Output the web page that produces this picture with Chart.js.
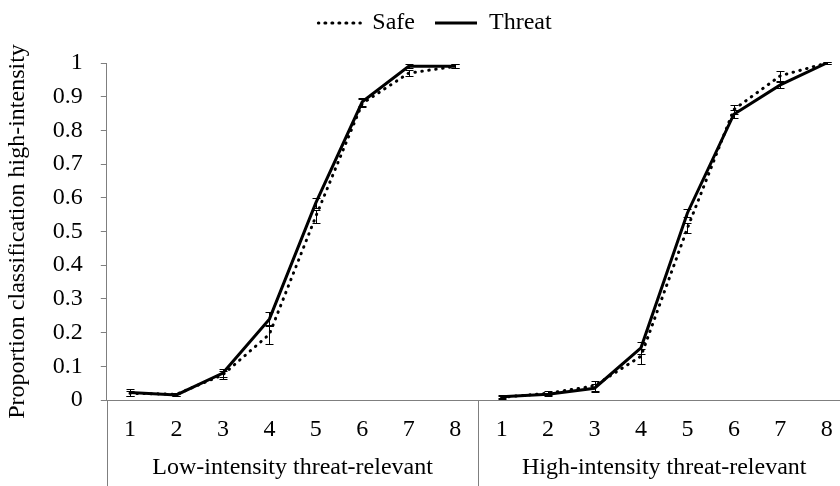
<!DOCTYPE html>
<html>
<head>
<meta charset="utf-8">
<script src="https://cdn.jsdelivr.net/npm/chart.js@4/dist/chart.umd.min.js"></script>
<style>
    html, body { margin: 0; padding: 0; background: #fff; overflow: hidden; }
    #wrap { width: 852px; height: 486px; }
</style>
</head>
<body>
<div id="wrap"><canvas id="mainChart" width="852" height="486"></canvas></div>
<script>
// Data
const categories = ['1', '2', '3', '4', '5', '6', '7', '8', '1', '2', '3', '4', '5', '6', '7', '8'];
const groups = ['Low-intensity threat-relevant', 'High-intensity threat-relevant'];
const safeValues = [0.02, 0.017, 0.075, 0.195, 0.545, 0.88, 0.97, 0.99,
                    0.008, 0.02, 0.042, 0.13, 0.51, 0.862, 0.962, 1.0];
const threatValues = [0.022, 0.015, 0.08, 0.24, 0.585, 0.885, 0.99, 0.99,
                      0.01, 0.017, 0.035, 0.155, 0.555, 0.848, 0.935, 1.0];
const safeErrors = [0.008, 0.005, 0.012, 0.028, 0.02, 0.012, 0.01, 0.006,
                    0.004, 0.006, 0.014, 0.022, 0.015, 0.012, 0.015, 0.003];
const threatErrors = [0.01, 0.004, 0.012, 0.02, 0.015, 0.012, 0.006, 0.006,
                      0.004, 0.005, 0.012, 0.018, 0.012, 0.012, 0.01, 0.003];
const yTicks = [0, 0.1, 0.2, 0.3, 0.4, 0.5, 0.6, 0.7, 0.8, 0.9, 1];

const FONT = 'Liberation Serif';
const AXIS_GREY = '#7f7f7f';
const groupSize = 8;

// no line between the last point of one group and the first of the next
const breakSegment = ctx => (ctx.p0DataIndex % groupSize === groupSize - 1) ? 'rgba(0,0,0,0)' : undefined;

// make the legend box taller and nudge it to where it sits in the figure
const legendSpace = {
    id: 'legendSpace',
    beforeInit(chart) {
        const legend = chart.legend;
        const origFit = legend.fit;
        legend.fit = function () {
            origFit.call(this);
            this.height = 63;
        };
    },
    afterLayout(chart) {
        const legend = chart.legend;
        legend.top -= 9;
        legend.bottom -= 9;
        legend.left += 10;
        legend.right += 10;
    }
};

const errorBars = {
    id: 'errorBars',
    afterDatasetsDraw(chart) {
        const ctx = chart.ctx;
        const y = chart.scales.y;
        ctx.save();
        ctx.strokeStyle = '#000';
        ctx.lineWidth = 1;
        chart.data.datasets.forEach((ds, i) => {
            const meta = chart.getDatasetMeta(i);
            meta.data.forEach((pt, j) => {
                const err = ds.errors[j];
                const top = Math.round(y.getPixelForValue(ds.data[j] + err)) + 0.5;
                const bot = Math.round(y.getPixelForValue(ds.data[j] - err)) + 0.5;
                const x = Math.round(pt.x) + 0.5;
                ctx.beginPath();
                ctx.moveTo(x, top); ctx.lineTo(x, bot);
                ctx.moveTo(x - 4, top); ctx.lineTo(x + 4, top);
                ctx.moveTo(x - 4, bot); ctx.lineTo(x + 4, bot);
                ctx.stroke();
            });
        });
        ctx.restore();
    }
};

const groupAxis = {
    id: 'groupAxis',
    afterDraw(chart) {
        const ctx = chart.ctx;
        const x = chart.scales.x;
        const area = chart.chartArea;
        ctx.save();
        ctx.strokeStyle = AXIS_GREY;
        ctx.lineWidth = 1;
        for (let g = 0; g <= groups.length; g++) {
            const px = Math.round(x.getPixelForValue(g * groupSize - 0.5)) + 0.5;
            ctx.beginPath();
            ctx.moveTo(px, area.bottom);
            ctx.lineTo(px, chart.height);
            ctx.stroke();
        }
        ctx.fillStyle = '#000';
        ctx.font = '24px "' + FONT + '"';
        ctx.textAlign = 'center';
        ctx.textBaseline = 'middle';
        groups.forEach((name, g) => {
            const mid = x.getPixelForValue(g * groupSize + (groupSize - 1) / 2);
            ctx.fillText(name, mid, 468);
        });
        ctx.restore();
    }
};

new Chart(document.getElementById('mainChart').getContext('2d'), {
    type: 'line',
    data: {
        labels: categories,
        datasets: [{
            label: 'Safe',
            data: safeValues,
            errors: safeErrors,
            borderColor: '#000',
            backgroundColor: 'rgba(0,0,0,0)',
            borderWidth: 3,
            borderDash: [0.5, 6.5],
            borderCapStyle: 'round',
            pointRadius: 0,
            tension: 0,
            segment: { borderColor: breakSegment }
        }, {
            label: 'Threat',
            data: threatValues,
            errors: threatErrors,
            borderColor: '#000',
            backgroundColor: 'rgba(0,0,0,0)',
            borderWidth: 3,
            pointRadius: 0,
            tension: 0,
            segment: { borderColor: breakSegment }
        }]
    },
    options: {
        responsive: false,
        animation: false,
        layout: { padding: { top: 0, right: 2, left: 0, bottom: 0 } },
        plugins: {
            legend: {
                position: 'top',
                labels: {
                    boxWidth: 42,
                    boxHeight: 0,
                    color: '#000',
                    padding: 20,
                    font: { family: FONT, size: 24 }
                }
            },
            tooltip: { enabled: false }
        },
        scales: {
            y: {
                min: 0,
                max: 1,
                afterBuildTicks(scale) { scale.ticks = yTicks.map(v => ({ value: v })); },
                title: {
                    display: true,
                    text: 'Proportion classification high-intensity',
                    color: '#000',
                    font: { family: FONT, size: 24 },
                    padding: { top: 3, bottom: 3 }
                },
                grid: {
                    drawOnChartArea: false,
                    tickLength: 6,
                    color: AXIS_GREY
                },
                border: { color: AXIS_GREY },
                ticks: {
                    color: '#000',
                    padding: 18,
                    font: { family: FONT, size: 24 },
                    callback: v => String(Number(v.toFixed(1)))
                }
            },
            x: {
                offset: true,
                afterFit(scale) { scale.height = 86; },
                grid: { display: false },
                border: { color: AXIS_GREY },
                ticks: {
                    color: '#000',
                    padding: 7,
                    maxRotation: 0,
                    autoSkip: false,
                    font: { family: FONT, size: 24 }
                }
            }
        }
    },
    plugins: [legendSpace, errorBars, groupAxis]
});
</script>
</body>
</html>
